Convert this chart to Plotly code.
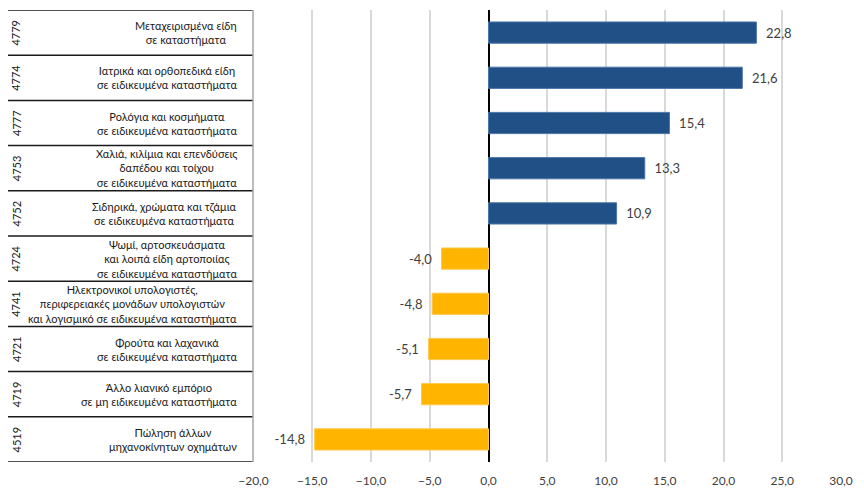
import plotly.graph_objects as go

# Data
codes = ["4779", "4774", "4777", "4753", "4752", "4724", "4741", "4721", "4719", "4519"]
labels = [
    "Μεταχειρισμένα είδη<br>σε καταστήματα",
    "Ιατρικά και ορθοπεδικά είδη<br>σε ειδικευμένα καταστήματα",
    "Ρολόγια και κοσμήματα<br>σε ειδικευμένα καταστήματα",
    "Χαλιά, κιλίμια και επενδύσεις<br>δαπέδου και τοίχου<br>σε ειδικευμένα καταστήματα",
    "Σιδηρικά, χρώματα και τζάμια<br>σε ειδικευμένα καταστήματα",
    "Ψωμί, αρτοσκευάσματα<br>και λοιπά είδη αρτοποιίας<br>σε ειδικευμένα καταστήματα",
    "Ηλεκτρονικοί υπολογιστές,<br>περιφερειακές μονάδων υπολογιστών<br>και λογισμικό σε ειδικευμένα καταστήματα",
    "Φρούτα και λαχανικά<br>σε ειδικευμένα καταστήματα",
    "Άλλο λιανικό εμπόριο<br>σε μη ειδικευμένα καταστήματα",
    "Πώληση άλλων<br>μηχανοκίνητων οχημάτων",
]
values = [22.8, 21.6, 15.4, 13.3, 10.9, -4.0, -4.8, -5.1, -5.7, -14.8]
tick_vals = [-20, -15, -10, -5, 0, 5, 10, 15, 20, 25, 30]

W, H = 864, 496
PAD = 8  # the page body margin shifts the figure by this much
NAVY = "#205085"
ORANGE = "#FFB400"
TEXT = "#404040"
FONT = "Lato"


def px(x):
    return (x - PAD) / W


rows = list(range(len(codes)))
colors = [NAVY if v >= 0 else ORANGE for v in values]
edges = ["#4A76A8" if v >= 0 else "#FFC94D" for v in values]
nb = "\u00a0\u00a0"
templates = [nb + "%{x:.1f}" if v >= 0 else "%{x:.1f}" + nb for v in values]

fig = go.Figure()
fig.add_trace(go.Bar(
    x=values, y=rows, orientation="h",
    marker=dict(color=colors, line=dict(color=edges, width=1)),
    width=0.47,
    texttemplate=templates, textposition="outside",
    textfont=dict(family=FONT, size=13, color=TEXT),
    cliponaxis=False,
))

# table on the left: row borders, code and description
shapes = []
for i in range(len(codes) + 1):
    shapes.append(dict(type="line", xref="paper", yref="y",
                       x0=px(5), x1=px(253), y0=i - 0.5, y1=i - 0.5,
                       line=dict(color="#1a1a1a", width=1.5)))
shapes.append(dict(type="line", xref="paper", yref="y",
                   x0=px(253), x1=px(253), y0=-0.5, y1=len(codes) - 0.5,
                   line=dict(color="#A6A6A6", width=1.5)))

annotations = []
for i, (c, lab) in enumerate(zip(codes, labels)):
    annotations.append(dict(x=px(16), y=i, xref="paper", yref="y", text=c,
                            textangle=-90, showarrow=False,
                            xanchor="center", yanchor="middle",
                            font=dict(family=FONT, size=11, color="#1a1a1a")))
    annotations.append(dict(x=px(239), y=i, xref="paper", yref="y", text=lab,
                            xanchor="right", align="center", showarrow=False,
                            font=dict(family=FONT, size=11, color="#1a1a1a")))

fig.update_layout(
    width=W, height=H,
    margin=dict(l=0, r=0, t=10 - PAD, b=H - (462 - PAD), autoexpand=False),
    plot_bgcolor="white", paper_bgcolor="white",
    separators=",.",
    showlegend=False,
    shapes=shapes,
    annotations=annotations,
    xaxis=dict(
        domain=[px(253.5), px(841)],
        range=[-20, 30], tickvals=tick_vals, tickformat=".1f",
        showgrid=True, gridcolor="#D9D9D9", gridwidth=1.5,
        zeroline=True, zerolinecolor="black", zerolinewidth=1.5,
        showline=False, ticks="outside", ticklen=8, tickcolor="rgba(0,0,0,0)",
        automargin=False,
        tickfont=dict(family=FONT, size=12, color=TEXT),
    ),
    yaxis=dict(
        range=[len(codes) - 0.5, -0.5], automargin=False,
        showticklabels=False, showgrid=False, zeroline=False, ticks="",
    ),
)

fig.write_html("out.html")
